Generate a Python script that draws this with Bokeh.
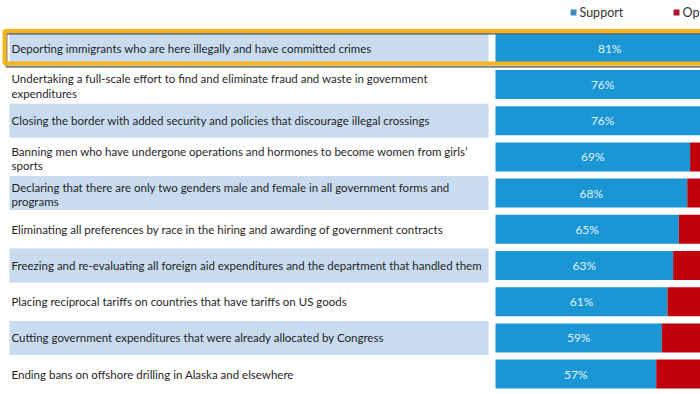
from bokeh.plotting import figure
from bokeh.models import Range1d, ColumnDataSource
from bokeh.embed import file_html
from bokeh.resources import INLINE
from bokeh.core.properties import value

# ---------------- data ----------------
statements = [
    "Deporting immigrants who are here illegally and have committed crimes",
    "Undertaking a full-scale effort to find and eliminate fraud and waste in government\nexpenditures",
    "Closing the border with added security and policies that discourage illegal crossings",
    "Banning men who have undergone operations and hormones to become women from girls\u2019\nsports",
    "Declaring that there are only two genders male and female in all government forms and\nprograms",
    "Eliminating all preferences by race in the hiring and awarding of government contracts",
    "Freezing and re-evaluating all foreign aid expenditures and the department that handled them",
    "Placing reciprocal tariffs on countries that have tariffs on US goods",
    "Cutting government expenditures that were already allocated by Congress",
    "Ending bans on offshore drilling in Alaska and elsewhere",
]
support = [81, 76, 76, 69, 68, 65, 63, 61, 59, 57]
oppose = [19, 24, 24, 31, 32, 35, 37, 39, 41, 43]
series = ["Support", "Oppose"]

# ---------------- style / layout ----------------
BLUE = "#1A96D4"
RED = "#C0000B"
ROW_BG = "#C9DCEF"
YELLOW = "#F4B41A"
TXT = "#1F1F1F"
LEG_COLORS = ["#3A8DBE", "#A8192E"]
FONT = "Lato"

PX = 2.82      # pixels per percent
X0 = 495.0     # pixel position of 0 %
ROW0 = 47.8    # first row centre (px)
STEP = 36.2    # row spacing (px)


def xd(px):
    return (px - X0) / PX


n = len(statements)
ys = [ROW0 + STEP * i for i in range(n)]

p = figure(width=700, height=394, output_backend="svg", toolbar_location=None,
           x_range=Range1d(xd(0), xd(700)), y_range=Range1d(394, 0),
           x_axis_type=None, y_axis_type=None, min_border=0)
p.outline_line_color = None
p.background_fill_color = "white"
p.border_fill_color = "white"
p.grid.visible = False

# alternating light-blue row backgrounds
bg_y = [ys[i] for i in range(0, n, 2)]
p.quad(left=xd(9), right=xd(488), top=[y - 17 for y in bg_y], bottom=[y + 17 for y in bg_y],
       fill_color=ROW_BG, line_color=None)

# stacked bars
src = ColumnDataSource(dict(y=ys, ty=[y + (1.5 if "\n" in t else 0) for y, t in zip(ys, statements)],
                            s=support, o=[s + o for s, o in zip(support, oppose)],
                            mid=[s / 2 for s in support],
                            lab=[f"{s}%" for s in support], txt=statements))
p.hbar(y="y", left=0, right="s", height=29, source=src, fill_color=BLUE, line_color=None)
p.hbar(y="y", left="s", right="o", height=29, source=src, fill_color=RED, line_color=None)

p.text(x="mid", y="y", text="lab", source=src, text_align="center", text_baseline="middle",
       text_font=value(FONT), text_font_size="12px", text_color="#E3F3FC")

p.text(x=xd(11), y="ty", text="txt", source=src, text_align="left", text_baseline="middle",
       text_font=value(FONT), text_font_size="11.5px", text_color=TXT, text_line_height=1.1)

# highlight box around the first statement
p.quad(left=xd(6), right=xd(730), top=ys[0] - 14.5, bottom=ys[0] + 18.5,
       fill_color=None, line_color="#4a4a4a", line_width=2, line_alpha=0.7)
p.quad(left=xd(4), right=xd(730), top=ys[0] - 17.3, bottom=ys[0] + 15.3,
       fill_color=None, line_color=YELLOW, line_width=4)

# legend
leg_x = [573, 676]
p.scatter(x=[xd(v) for v in leg_x], y=[12, 12], marker="square", size=6,
          fill_color=LEG_COLORS, line_color=None)
p.text(x=[xd(v + 6) for v in leg_x], y=[12, 12], text=series, text_align="left",
       text_baseline="middle", text_font=value(FONT), text_font_size="12.5px", text_color="#333333")

open("out.html", "w").write(file_html(p, INLINE))
